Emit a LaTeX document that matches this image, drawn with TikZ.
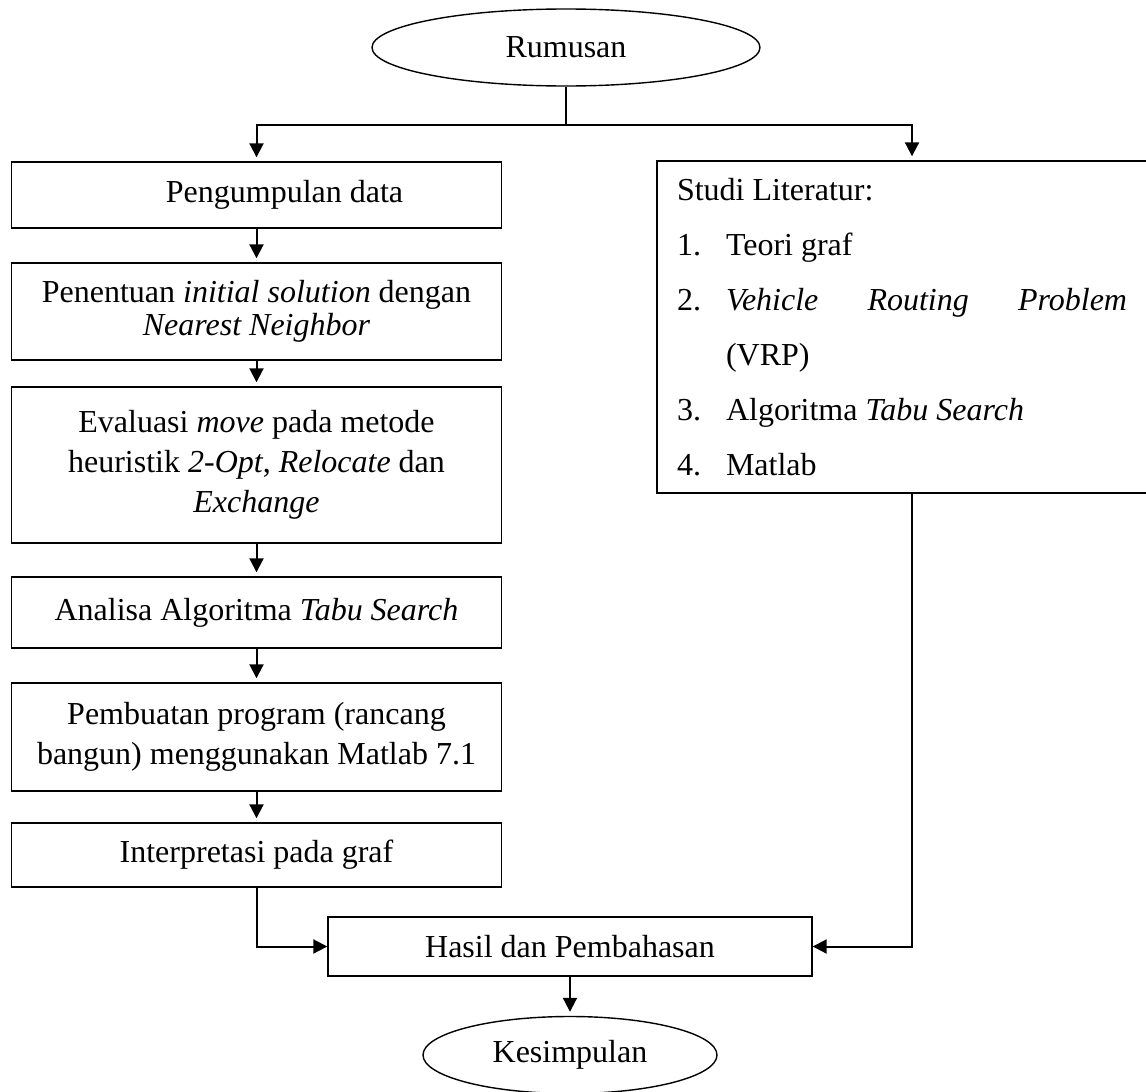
\documentclass[tikz,border=0pt]{standalone}
\usepackage{fontspec}
\setmainfont{Liberation Serif}
\usepackage{tikz}
\usetikzlibrary{arrows.meta, shapes.geometric}

\begin{document}
\begin{tikzpicture}[
  x=0.5pt, y=-0.5pt,
  font=\fontsize{16}{20}\selectfont,
  box/.style={draw, line width=0.7pt, align=center, inner sep=0pt, minimum width=245pt},
  oval/.style={ellipse, draw, line width=0.7pt, inner sep=0pt, minimum height=38.5pt},
  link/.style={line width=1pt},
  arrow/.style={-{Triangle[length=7pt, width=7pt]}, line width=1pt, shorten >=2pt}
]
\useasboundingbox (0,0) rectangle (1146,1092);

\node[oval, minimum width=194pt] (rumusan) at (566,47.5) {Rumusan};

\node[box, minimum height=33pt] (data) at (256.5,195) {\hspace*{28pt}Pengumpulan data};
\node[box, minimum height=48.5pt] (init) at (256.5,311.5) {Penentuan \textit{initial solution} dengan\\[-3.5pt]\textit{Nearest Neighbor}};
\node[box, minimum height=78pt] (eval) at (256.5,465) {Evaluasi \textit{move} pada metode\\heuristik \textit{2-Opt}, \textit{Relocate} dan\\\textit{Exchange}};
\node[box, minimum height=35.5pt] (tabu) at (256.5,612.5) {Analisa Algoritma \textit{Tabu Search}};
\node[box, minimum height=54pt] (program) at (256.5,737) {Pembuatan program (rancang\\bangun) menggunakan Matlab 7.1};
\node[box, minimum height=32pt] (interp) at (256.5,855) {Interpretasi pada graf};

\node[box, minimum width=255pt, minimum height=166pt, align=flush left, text width=235pt, font=\fontsize{16}{27.5}\selectfont] (studi) at (912,327) {Studi Literatur:\\
\makebox[24.5pt][l]{1.}Teori graf\\
\makebox[24.5pt][l]{2.}\makebox[200.5pt][l]{\textit{Vehicle}\hfill\textit{Routing}\hfill\textit{Problem}}\\
\hspace*{24.5pt}(VRP)\\
\makebox[24.5pt][l]{3.}Algoritma \textit{Tabu Search}\\
\makebox[24.5pt][l]{4.}Matlab};

\node[box, minimum width=242pt, minimum height=29.5pt] (hasil) at (570,946.5) {Hasil dan Pembahasan};
\node[oval, minimum width=147pt] (simpulan) at (570,1055) {Kesimpulan};

\coordinate (fork) at (566,125);
\draw[link] (rumusan) -- (fork);
\draw[arrow] (fork) -| (data);
\draw[arrow] (fork) -| (studi);
\draw[arrow] (data) -- (init);
\draw[arrow] (init) -- (eval);
\draw[arrow] (eval) -- (tabu);
\draw[arrow] (tabu) -- (program);
\draw[arrow] (program) -- (interp);
\draw[arrow, shorten >=0pt] (interp) |- (hasil);
\draw[arrow, shorten >=0pt] (studi) |- (hasil);
\draw[arrow] (hasil) -- (simpulan);
\end{tikzpicture}
\end{document}
